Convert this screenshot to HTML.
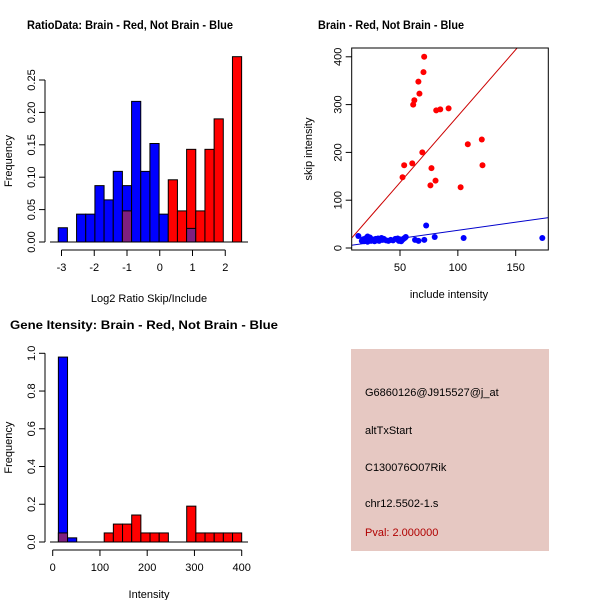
<!DOCTYPE html>
<html><head><meta charset="utf-8"><style>
html,body{margin:0;padding:0;background:#fff;}
svg{display:block;font-family:"Liberation Sans",sans-serif;}
</style></head><body>
<svg id="s" width="600" height="600" viewBox="0 0 600 600" xmlns="http://www.w3.org/2000/svg">
<text x="27" y="29" font-size="12" font-weight="bold" textLength="206" lengthAdjust="spacingAndGlyphs">RatioData: Brain - Red, Not Brain - Blue</text>
<text x="318" y="29" font-size="12" font-weight="bold" textLength="146" lengthAdjust="spacingAndGlyphs">Brain - Red, Not Brain - Blue</text>
<text x="10" y="329" font-size="12" font-weight="bold" textLength="268" lengthAdjust="spacingAndGlyphs">Gene Itensity: Brain - Red, Not Brain - Blue</text>
<rect x="351" y="349" width="198" height="202" fill="#e6c8c2"/>
<text x="365" y="396" font-size="11">G6860126@J915527@j_at</text>
<text x="365" y="434" font-size="11">altTxStart</text>
<text x="365" y="471" font-size="11">C130076O07Rik</text>
<text x="365" y="507" font-size="11">chr12.5502-1.s</text>
<text x="365" y="536" font-size="11" fill="#b00000">Pval: 2.000000</text>
</svg>
<script>
// Histogram 1 data
const h1Blue=[0.022,0,0.043,0.043,0.087,0.065,0.109,0.087,0.217,0.109,0.152,0.043,0,0,0.021,0,0,0,0,0];
const h1Red=[0,0,0,0,0,0,0,0.048,0,0,0,0,0.096,0.048,0.143,0.048,0.143,0.190,0,0.286];
const h1Start=-3.1, h1Step=0.28;
const h1XTicks=[-3,-2,-1,0,1,2];
const h1YTicks=["0.00","0.05","0.10","0.15","0.20","0.25"];
// Scatter data
const redX=[70.9,70.3,65.9,66.8,62.4,61.4,53.6,52.2,60.6,69.3,81.3,84.8,92,108.6,120.7,121.3,102.4,77.2,80.7,76.3];
const redY=[400,368,348,323,309,300,173,148,177,200,288,290,292,217,227,173,127,167,141,131];
const blueX=[14,17,18,19,20,21,22,22,23,24,25,26,27,28,29,30,31,32,33,34,35,36,38,40,42,44,46,48,49,50,51,52,53,54,55,63,66,71,72.6,80,105,173];
const blueY=[25,15,18,14,20,16,24,13,19,22,15,18,17,14,19,16,20,15,18,21,17,19,16,15,17,16,19,20,15,18,14,17,19,21,23,17,15,17,47,23,21,21];
const redFit=[-2,2.78], blueFit=[3,0.34];
const scXTicks=[50,100,150], scYTicks=[0,100,200,300,400];
// Histogram 3 data
const h3Blue=[0.98,0.022,0,0,0,0,0,0,0,0,0,0,0,0,0,0,0,0,0,0];
const h3Red=[0.048,0,0,0,0,0.048,0.095,0.095,0.143,0.048,0.048,0.048,0,0,0.19,0.048,0.048,0.048,0.048,0.048];
const h3Start=12, h3Step=19.4;
const h3XTicks=[0,100,200,300,400];
const h3YTicks=["0.0","0.2","0.4","0.6","0.8","1.0"];

const s=document.getElementById('s');
const NS="http://www.w3.org/2000/svg";
function mk(t,a,txt){const e=document.createElementNS(NS,t);for(const k in a)e.setAttribute(k,a[k]);if(txt!==undefined)e.textContent=txt;s.appendChild(e);return e;}

function hist(blue,red,start,step,xs,ys,yTicks,xTicks,yMaxTick,baseY,axX,axY,xl,label,pfx){
  for(let i=0;i<blue.length;i++){
    const x0=xs(start+i*step),x1=xs(start+(i+1)*step);
    const b=blue[i],r=red[i];
    const draw=(v,c,n)=>{if(v<=0)return;const e=mk('rect',{x:x0,y:ys(v),width:x1-x0,height:ys(0)-ys(v),fill:c,stroke:'#000','stroke-width':1});
      
      };
    if(r>=b){draw(r,'#ff0000',pfx+'-red-bar');draw(b,'#7f1f7f',pfx+'-overlap-bar');}
    else{draw(b,'#0000ff',pfx+'-blue-bar');draw(r,'#7f1f7f',pfx+'-overlap-bar');}
  }
  const bl=mk('line',{x1:50,x2:248,y1:baseY,y2:baseY,stroke:'#000'});
  
  
  const ya=mk('line',{x1:axY,x2:axY,y1:ys(0),y2:ys(yMaxTick),stroke:'#000'});
  
  
  yTicks.forEach(t=>{const y=ys(parseFloat(t));mk('line',{x1:axY-6,x2:axY,y1:y,y2:y,stroke:'#000'});
    const e=mk('text',{x:0,y:0,'font-size':11,'text-anchor':'middle',transform:`translate(${axY-10},${y}) rotate(-90)`},t);
    
    });
  const xa=mk('line',{x1:xs(xTicks[0]),x2:xs(xTicks[xTicks.length-1]),y1:axX,y2:axX,stroke:'#000'});
  
  
  xTicks.forEach(t=>{const x=xs(t);mk('line',{x1:x,x2:x,y1:axX,y2:axX+6,stroke:'#000'});
    const e=mk('text',{x:x,y:axX+21,'font-size':11,'text-anchor':'middle'},String(t));
    
    });
  const xt=mk('text',{x:149,y:xl,'font-size':11,'text-anchor':'middle'},label);
  
  
  const yt=mk('text',{x:0,y:0,'font-size':11,'text-anchor':'middle',transform:`translate(12,${(ys(0)+ys(yMaxTick))/2}) rotate(-90)`},'Frequency');
  
  
}
const x1=v=>61.5+(v+3)*32.75, y1=v=>242-v*648;
hist(h1Blue,h1Red,h1Start,h1Step,x1,y1,h1YTicks,h1XTicks,0.25,242,250,45,302,'Log2 Ratio Skip/Include','ratio');
const x3=v=>52.7+v*0.4725, y3=v=>542-v*188.7;
hist(h3Blue,h3Red,h3Start,h3Step,x3,y3,h3YTicks,h3XTicks,1.0,542,550,45,598,'Intensity','intensity');

const sx=v=>400+(v-50)*1.157, sy=v=>248-v*0.478;
const L=351.7,R=548.3,T=48,B=250;
mk('defs',{}).innerHTML='<clipPath id="cp"><rect x="351.7" y="48" width="196.6" height="202"/></clipPath>';
[[redFit,'#cc0000','red-fit-line'],[blueFit,'#0000cc','blue-fit-line']].forEach(([f,c,n])=>{
  const xa=0,xb=200;
  const e=mk('line',{x1:sx(xa),y1:sy(f[0]+f[1]*xa),x2:sx(xb),y2:sy(f[0]+f[1]*xb),stroke:c,'clip-path':'url(#cp)'});
  
  
});
blueX.forEach((v,i)=>{const e=mk('circle',{cx:sx(v),cy:sy(blueY[i]),r:3,fill:'#0000ff'});
  
  });
redX.forEach((v,i)=>{const e=mk('circle',{cx:sx(v),cy:sy(redY[i]),r:3,fill:'#ff0000'});
  
  });
const box=mk('rect',{x:L,y:T,width:R-L,height:B-T,fill:'none',stroke:'#000'});


scXTicks.forEach(t=>{const x=sx(t);mk('line',{x1:x,x2:x,y1:B,y2:B+6,stroke:'#000'});
  const e=mk('text',{x:x,y:B+21,'font-size':11,'text-anchor':'middle'},String(t));
  
  });
scYTicks.forEach(t=>{const y=sy(t);mk('line',{x1:L-6,x2:L,y1:y,y2:y,stroke:'#000'});
  const e=mk('text',{x:0,y:0,'font-size':11,'text-anchor':'middle',transform:`translate(${L-10},${y}) rotate(-90)`},String(t));
  
  });
const sxt=mk('text',{x:449,y:298,'font-size':11,'text-anchor':'middle'},'include intensity');


const syt=mk('text',{x:0,y:0,'font-size':11,'text-anchor':'middle',transform:'translate(312,149) rotate(-90)'},'skip intensity');


</script>
</body></html>
